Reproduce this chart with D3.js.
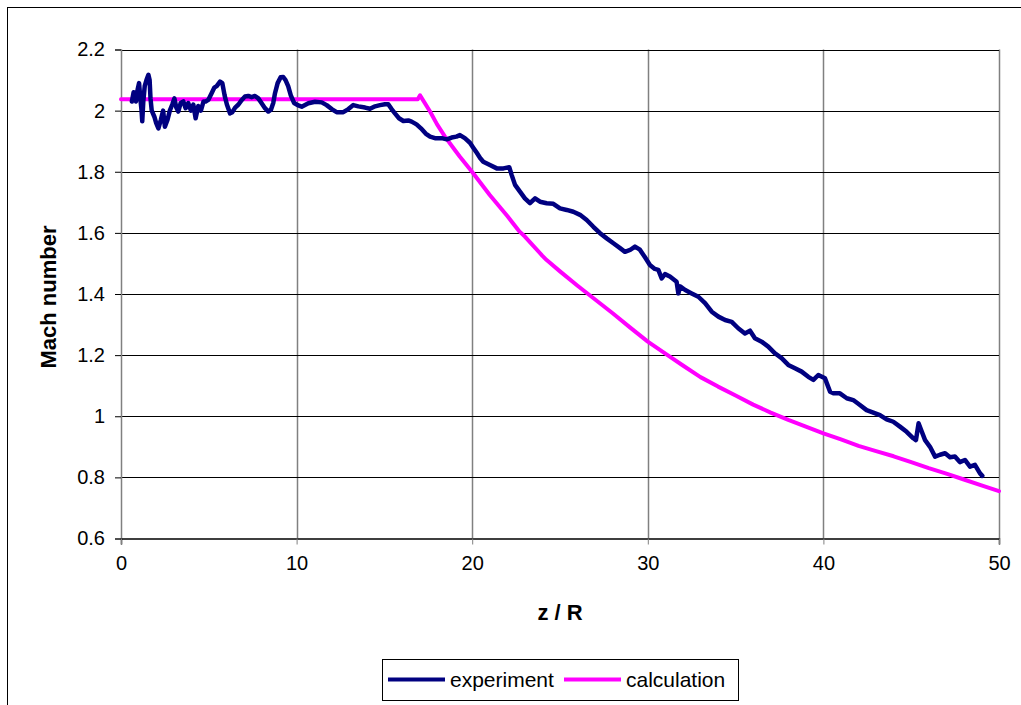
<!DOCTYPE html>
<html>
<head>
<meta charset="utf-8">
<script src="https://cdn.jsdelivr.net/npm/d3@7"></script>
<style>
  html, body { margin: 0; padding: 0; background: #fff; }
  svg { display: block; font-family: "Liberation Sans", Arial, sans-serif; }
</style>
</head>
<body>
<svg id="chart" width="1021" height="705"></svg>
<script>
// Axis ticks
const zTicks = [0, 10, 20, 30, 40, 50];
const machTicks = [0.6, 0.8, 1.0, 1.2, 1.4, 1.6, 1.8, 2.0, 2.2];

// Measured Mach number along the jet axis
const expZ = [0.62, 0.72, 0.85, 0.95, 1.03, 1.1, 1.17, 1.21, 1.27, 1.35, 1.45, 1.56, 1.63, 1.68, 1.75, 1.9, 2.0, 2.13, 2.27, 2.4, 2.5, 2.65, 2.78, 2.92, 3.04, 3.15, 3.26, 3.4, 3.55, 3.68, 3.83, 3.98, 4.12, 4.25, 4.4, 4.55, 4.7, 4.82, 4.97, 5.16, 5.31, 5.45, 5.64, 5.77, 5.9, 6.03, 6.21, 6.34, 6.5, 6.69, 6.88, 7.06, 7.25, 7.44, 7.63, 7.82, 8.0, 8.2, 8.39, 8.54, 8.67, 8.77, 8.92, 9.09, 9.24, 9.37, 9.52, 9.67, 9.86, 10.06, 10.29, 10.67, 11.05, 11.43, 11.71, 12.0, 12.28, 12.66, 12.95, 13.23, 13.52, 13.9, 14.18, 14.47, 14.75, 15.03, 15.22, 15.41, 15.6, 15.83, 16.08, 16.36, 16.55, 16.83, 17.08, 17.35, 17.6, 17.88, 18.26, 18.55, 18.83, 19.1, 19.3, 19.58, 19.87, 20.07, 20.26, 20.45, 20.63, 21.01, 21.4, 21.78, 22.11, 22.25, 22.44, 22.72, 23.0, 23.29, 23.58, 23.86, 24.24, 24.62, 25.0, 25.38, 25.76, 26.14, 26.52, 26.9, 27.28, 27.66, 28.04, 28.42, 28.7, 28.99, 29.27, 29.55, 29.84, 30.12, 30.4, 30.6, 30.79, 30.98, 31.26, 31.64, 31.74, 31.84, 32.13, 32.5, 32.88, 33.26, 33.64, 34.02, 34.4, 34.78, 35.15, 35.53, 35.82, 36.1, 36.48, 36.86, 37.24, 37.62, 38.0, 38.38, 38.76, 39.14, 39.43, 39.71, 40.09, 40.38, 40.57, 40.94, 41.33, 41.7, 42.08, 42.46, 42.84, 43.22, 43.6, 43.98, 44.36, 44.74, 45.12, 45.27, 45.42, 45.6, 45.79, 46.07, 46.36, 46.64, 46.93, 47.21, 47.49, 47.77, 48.06, 48.35, 48.63, 48.92, 49.05];
const expMach = [2.03, 2.06, 2.03, 2.07, 2.09, 2.04, 2.0, 1.965, 2.03, 2.08, 2.1, 2.117, 2.1, 2.04, 2.0, 1.98, 1.96, 1.942, 1.97, 2.0, 1.947, 1.97, 2.0, 2.02, 2.04, 2.01, 1.997, 2.025, 2.03, 2.008, 2.025, 2.0, 2.02, 1.975, 2.015, 2.0, 2.03, 2.03, 2.035, 2.057, 2.075, 2.08, 2.095, 2.09, 2.05, 2.02, 1.991, 1.995, 2.01, 2.02, 2.035, 2.046, 2.048, 2.044, 2.048, 2.04, 2.025, 2.008, 1.997, 2.003, 2.025, 2.057, 2.09, 2.109, 2.11, 2.1, 2.08, 2.05, 2.025, 2.018, 2.013, 2.024, 2.029, 2.027, 2.018, 2.005, 1.995, 1.995, 2.005, 2.018, 2.014, 2.01, 2.006, 2.014, 2.018, 2.021, 2.021, 2.005, 1.991, 1.975, 1.966, 1.968, 1.964, 1.955, 1.942, 1.925, 1.915, 1.91, 1.91, 1.906, 1.912, 1.915, 1.92, 1.91, 1.895, 1.878, 1.862, 1.845, 1.833, 1.822, 1.811, 1.811, 1.815, 1.789, 1.757, 1.735, 1.713, 1.697, 1.713, 1.702, 1.697, 1.695, 1.68, 1.675, 1.669, 1.659, 1.642, 1.62, 1.599, 1.582, 1.566, 1.55, 1.538, 1.544, 1.555, 1.545, 1.52, 1.495, 1.482, 1.479, 1.451, 1.465, 1.457, 1.44, 1.402, 1.425, 1.413, 1.402, 1.391, 1.37, 1.342, 1.326, 1.315, 1.309, 1.288, 1.271, 1.28, 1.255, 1.244, 1.228, 1.206, 1.19, 1.168, 1.157, 1.146, 1.129, 1.119, 1.135, 1.124, 1.08, 1.075, 1.075, 1.059, 1.053, 1.037, 1.02, 1.012, 1.004, 0.99, 0.982, 0.966, 0.949, 0.928, 0.922, 0.977, 0.95, 0.922, 0.9, 0.868, 0.874, 0.879, 0.866, 0.868, 0.85, 0.857, 0.835, 0.841, 0.813, 0.805];

// Calculated Mach number
const calcZ = [0, 16.9, 17.03, 17.6, 18, 18.45, 19, 19.3, 20, 21, 22, 22.7, 23, 24, 24.24, 25, 26, 27, 28, 29, 30, 31, 32, 33, 34, 35, 36, 37, 38, 39, 40, 41, 42, 43, 44, 45, 46, 47, 48, 49, 50];
const calcMach = [2.037, 2.037, 2.05, 1.997, 1.955, 1.915, 1.872, 1.849, 1.799, 1.724, 1.655, 1.604, 1.588, 1.525, 1.511, 1.474, 1.427, 1.382, 1.337, 1.29, 1.244, 1.205, 1.166, 1.128, 1.097, 1.068, 1.038, 1.012, 0.988, 0.966, 0.944, 0.924, 0.903, 0.886, 0.869, 0.85, 0.83, 0.812, 0.793, 0.774, 0.755];

const seriesNames = ["experiment", "calculation"];
const seriesColors = ["#000080", "#ff00ff"];

const svg = d3.select("#chart");

// Outer chart frame
svg.append("rect")
  .attr("x", 7.5).attr("y", 7.5)
  .attr("width", 1040).attr("height", 720)
  .attr("fill", "#fff").attr("stroke", "#000").attr("stroke-width", 1);

const plot = { left: 121, right: 999, top: 49.5, bottom: 538.5 };

const x = d3.scaleLinear().domain([0, 50]).range([plot.left, plot.right]);
const y = d3.scaleLinear().domain([0.6, 2.2]).range([plot.bottom, plot.top]);

// Vertical grid lines (grey)
svg.append("g")
  .selectAll("line")
  .data(zTicks.slice(1))
  .join("line")
  .attr("x1", d => Math.round(x(d)) + 0.5).attr("x2", d => Math.round(x(d)) + 0.5)
  .attr("y1", plot.top).attr("y2", plot.bottom)
  .attr("stroke", "#808080").attr("stroke-width", 1.5);

// Horizontal grid lines (black)
svg.append("g")
  .selectAll("line")
  .data(machTicks.slice(1))
  .join("line")
  .attr("x1", plot.left).attr("x2", plot.right)
  .attr("y1", d => Math.round(y(d)) + 0.5).attr("y2", d => Math.round(y(d)) + 0.5)
  .attr("stroke", "#000").attr("stroke-width", 1);

const fmt = d => String(+d.toFixed(1));

// Y axis
const yAxis = svg.append("g")
  .attr("transform", `translate(${plot.left},0)`)
  .call(d3.axisLeft(y).tickValues(machTicks).tickFormat(fmt).tickSize(6).tickPadding(10));
yAxis.select(".domain").attr("stroke", "#808080").attr("stroke-width", 1.5);
yAxis.selectAll(".tick line").attr("stroke", "#000");
yAxis.selectAll("text").attr("font-size", 20).attr("fill", "#000")
  .attr("font-family", "Liberation Sans, Arial, sans-serif");

// X axis
const xAxis = svg.append("g")
  .attr("transform", `translate(0,${plot.bottom})`)
  .call(d3.axisBottom(x).tickValues(zTicks).tickFormat(d3.format("d")).tickSize(6).tickPadding(11));
xAxis.select(".domain").attr("stroke", "#000").attr("stroke-width", 1.5);
xAxis.selectAll(".tick line").attr("stroke", "#808080");
xAxis.selectAll("text").attr("font-size", 20).attr("fill", "#000")
  .attr("font-family", "Liberation Sans, Arial, sans-serif");

// Axis titles
svg.append("text")
  .attr("transform", `translate(56,${(plot.top + plot.bottom) / 2 + 3}) rotate(-90)`)
  .attr("text-anchor", "middle")
  .attr("font-size", 22).attr("font-weight", "bold")
  .text("Mach number");

svg.append("text")
  .attr("x", (plot.left + plot.right) / 2).attr("y", 620)
  .attr("text-anchor", "middle")
  .attr("font-size", 22).attr("font-weight", "bold")
  .text("z / R");

// Series lines
const line = d3.line().x(d => x(d[0])).y(d => y(d[1]));

const calcData = calcZ.map((z, i) => [z, calcMach[i]]);
const expData = expZ.map((z, i) => [z, expMach[i]]);

svg.append("path")
  .datum(calcData)
  .attr("d", line)
  .attr("fill", "none")
  .attr("stroke", seriesColors[1]).attr("stroke-width", 4)
  .attr("stroke-linejoin", "round").attr("stroke-linecap", "round");

svg.append("path")
  .datum(expData)
  .attr("d", line)
  .attr("fill", "none")
  .attr("stroke", seriesColors[0]).attr("stroke-width", 4.5)
  .attr("stroke-linejoin", "round").attr("stroke-linecap", "round");

// Legend
const legend = svg.append("g");
legend.append("rect")
  .attr("x", 382.5).attr("y", 659.5).attr("width", 356).attr("height", 41)
  .attr("fill", "#fff").attr("stroke", "#000").attr("stroke-width", 1);

const legendItems = [
  { name: seriesNames[0], color: seriesColors[0], x1: 388, x2: 445, tx: 450 },
  { name: seriesNames[1], color: seriesColors[1], x1: 564, x2: 621, tx: 626 }
];
legendItems.forEach(it => {
  legend.append("line")
    .attr("x1", it.x1).attr("x2", it.x2).attr("y1", 679.5).attr("y2", 679.5)
    .attr("stroke", it.color).attr("stroke-width", 4);
  legend.append("text")
    .attr("x", it.tx).attr("y", 686.5)
    .attr("font-size", 21)
    .text(it.name);
});
</script>
</body>
</html>
